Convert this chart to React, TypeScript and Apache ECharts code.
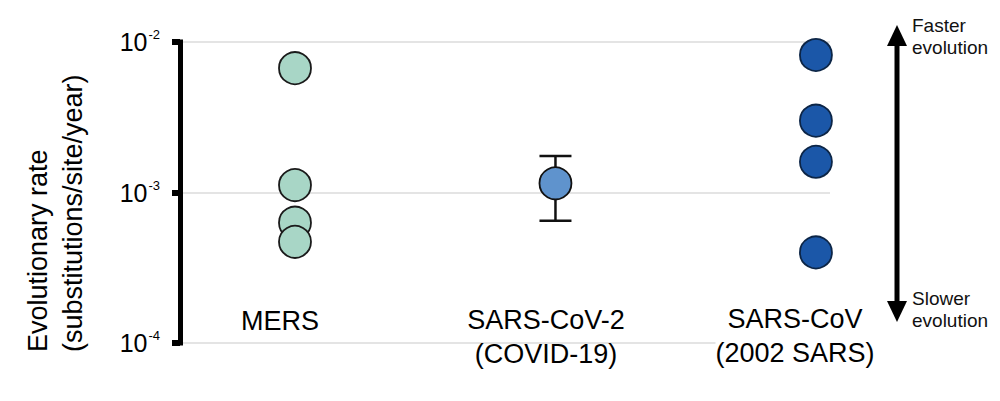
import * as echarts from 'echarts';
import React, { useEffect, useRef } from 'react';

// evolutionary rates (substitutions/site/year)
const categories = ['MERS', 'SARS-CoV-2\n(COVID-19)', 'SARS-CoV\n(2002 SARS)'];
const mersRates = [0.0067, 0.00112, 0.00063, 0.00047];
const covidRate = [0.00115];
const covidRange = [0.00065, 0.00175]; // low, high
const sarsRates = [0.0082, 0.003, 0.0016, 0.0004];
const yTicks = [0.0001, 0.001, 0.01];

const FONT = '"Liberation Sans", Arial, Helvetica, sans-serif';

const App: React.FC = () => {
  const chartRef = useRef<HTMLDivElement>(null);

  useEffect(() => {
    document.body.style.margin = '0';
    const myChart = echarts.init(chartRef.current!, null, { renderer: 'svg' });

    const labelText = (text: string, x: number, y: number, bg?: string) => ({
      type: 'text',
      x,
      y,
      z: 100,
      style: {
        text,
        fontSize: 27,
        fontFamily: FONT,
        fill: '#000',
        align: 'center',
        verticalAlign: 'middle',
        lineHeight: 34,
        backgroundColor: bg,
      },
    });

    const option = {
      animation: false,
      textStyle: { fontFamily: FONT },
      grid: { left: 180, right: 170, top: 42, bottom: 58 },
      xAxis: {
        type: 'value',
        min: -0.4415,
        max: 2.054,
        show: false,
      },
      yAxis: {
        type: 'log',
        logBase: 10,
        min: yTicks[0],
        max: yTicks[yTicks.length - 1],
        interval: 1,
        axisLine: {
          show: true,
          onZero: false,
          lineStyle: { color: '#000', width: 5, cap: 'square' },
        },
        axisTick: { show: true, length: 8, lineStyle: { color: '#000', width: 6 } },
        splitLine: { show: true, lineStyle: { color: '#e4e4e4', width: 2 } },
        minorTick: { show: false },
        axisLabel: {
          margin: 20,
          formatter: (v: number) => `{b|10}{s|-${Math.abs(Math.round(Math.log10(v)))}}`,
          rich: {
            b: { fontSize: 25, color: '#000', fontFamily: FONT, lineHeight: 28 },
            s: {
              fontSize: 13,
              color: '#000',
              fontFamily: FONT,
              lineHeight: 10,
              verticalAlign: 'top',
              padding: [0, 0, 0, 1],
            },
          },
        },
      },
      series: [
        {
          type: 'custom',
          name: 'COVID error',
          z: 1,
          encode: { x: 0, y: [1, 2] },
          data: [[1, covidRange[0], covidRange[1]]],
          renderItem: (params: any, api: any) => {
            const x = api.value(0);
            const lo = api.coord([x, api.value(1)]);
            const hi = api.coord([x, api.value(2)]);
            const half = 16;
            const style = { stroke: '#111', lineWidth: 2.5 };
            return {
              type: 'group',
              children: [
                { type: 'line', shape: { x1: lo[0], y1: lo[1], x2: hi[0], y2: hi[1] }, style },
                { type: 'line', shape: { x1: lo[0] - half, y1: lo[1], x2: lo[0] + half, y2: lo[1] }, style },
                { type: 'line', shape: { x1: hi[0] - half, y1: hi[1], x2: hi[0] + half, y2: hi[1] }, style },
              ],
            };
          },
        },
        {
          type: 'scatter',
          name: 'MERS',
          z: 3,
          symbolSize: 32,
          data: mersRates.map((v) => [0, v]),
          itemStyle: { color: '#a8d6c6', borderColor: '#1a1a1a', borderWidth: 1.8, opacity: 1 },
        },
        {
          type: 'scatter',
          name: 'SARS-CoV-2',
          z: 3,
          symbolSize: 32,
          data: covidRate.map((v) => [1, v]),
          itemStyle: { color: '#5f93cd', borderColor: '#111', borderWidth: 1.8, opacity: 1 },
        },
        {
          type: 'scatter',
          name: 'SARS-CoV',
          z: 3,
          symbolSize: 32,
          data: sarsRates.map((v) => [2, v]),
          itemStyle: { color: '#1b57a8', borderColor: '#0c2546', borderWidth: 1.8, opacity: 1 },
        },
      ],
      graphic: [
        {
          type: 'text',
          x: 55,
          y: 352,
          rotation: Math.PI / 2,
          style: {
            text: 'Evolutionary rate\n(substitutions/site/year)',
            fontSize: 27,
            fontFamily: FONT,
            fill: '#000',
            align: 'left',
            verticalAlign: 'middle',
            lineHeight: 35,
          },
        },
        labelText(categories[0], 280, 321),
        labelText(categories[1], 546, 337),
        labelText(categories[2], 795, 336, '#fff'),
        // faster / slower arrow
        {
          type: 'line',
          shape: { x1: 897, y1: 42, x2: 897, y2: 305 },
          style: { stroke: '#000', lineWidth: 5 },
        },
        {
          type: 'polygon',
          shape: { points: [[887, 46], [907, 46], [897, 25]] },
          style: { fill: '#000' },
        },
        {
          type: 'polygon',
          shape: { points: [[887, 301], [907, 301], [897, 322]] },
          style: { fill: '#000' },
        },
        {
          type: 'text',
          x: 912,
          y: 36,
          style: {
            text: 'Faster\nevolution',
            fontSize: 19,
            fontFamily: FONT,
            fill: '#111',
            align: 'left',
            verticalAlign: 'middle',
            lineHeight: 22,
          },
        },
        {
          type: 'text',
          x: 912,
          y: 309,
          style: {
            text: 'Slower\nevolution',
            fontSize: 19,
            fontFamily: FONT,
            fill: '#111',
            align: 'left',
            verticalAlign: 'middle',
            lineHeight: 22,
          },
        },
      ],
    };

    myChart.setOption(option as any);

    return () => {
      myChart.dispose();
    };
  }, []);

  return <div ref={chartRef} style={{ width: '1000px', height: '401px' }} />;
};

export default App;
